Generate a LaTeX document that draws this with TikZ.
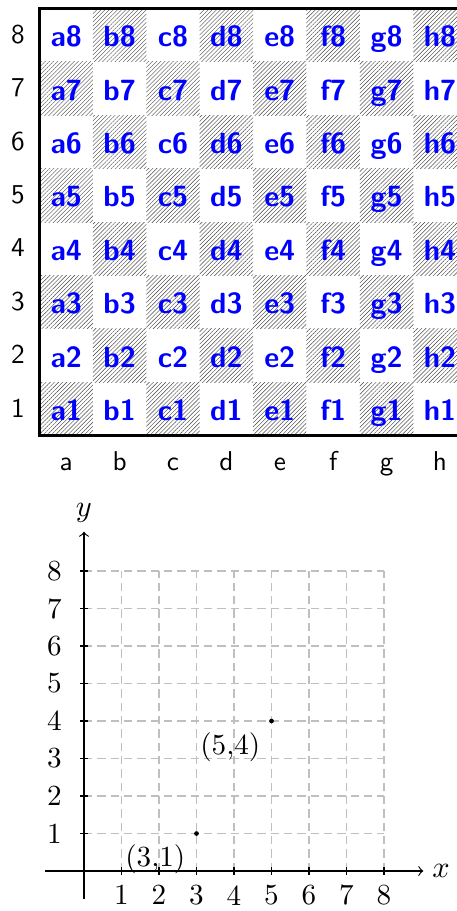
\documentclass[tikz,border=0pt]{standalone}
\usepackage{fontspec}
\usetikzlibrary{patterns.meta}
\begin{document}
\begin{tikzpicture}[x=0.36pt,y=-0.36pt,
  sqlabel/.style={font=\fontsize{10.5}{12}\selectfont\sffamily\bfseries, text=blue, inner sep=0pt, anchor=base},
  coordlabel/.style={font=\fontsize{9.8}{11}\selectfont\sffamily, inner sep=0pt, anchor=base},
  darksq/.style={pattern={Lines[angle=45,distance=1.05pt,line width=0.15pt]}, pattern color=black!75},
  boardframe/.style={line width=0.9pt},
  gridline/.style={gray!50, line width=0.4pt, dash pattern=on 3pt off 1.8pt},
  axisline/.style={line width=0.4pt, ->},
  tickline/.style={line width=0.4pt},
  ticklabel/.style={font=\fontsize{10.5}{12}\selectfont},
  ptlabel/.style={font=\fontsize{10.5}{12}\selectfont, below left=0.5pt}]
\useasboundingbox (0,0) rectangle (456,911);
% chessboard
\foreach \f [count=\i from 0] in {a,b,c,d,e,f,g,h}{
  \foreach \r [count=\j from 0] in {8,7,6,5,4,3,2,1}{
    \pgfmathsetmacro\xa{39.5+53.4*\i}
    \pgfmathsetmacro\ya{8.5+53.4*\j}
    \pgfmathtruncatemacro\oddsq{mod(\i+\j,2)}
    \ifnum\oddsq=1 \fill[darksq] (\xa,\ya) rectangle ++(53.4,53.4); \fi
    \node[sqlabel] (sq\f\r) at (\xa+26.7,\ya+38.2) {\f\r};
  }
  \node[coordlabel] (file\f) at (66.2+53.4*\i,470) {\f};
}
\foreach \r [count=\j from 0] in {8,7,6,5,4,3,2,1}{
  \node[coordlabel] (rank\r) at (18,43.3+53.4*\j) {\r};
}
\draw[boardframe] (39.5,8.5) rectangle (466.7,435.7);
% coordinate system
\begin{scope}[shift={(84,871)}, x=13.5pt, y=13.5pt]
  \foreach \k in {1,...,8}{
    \draw[gridline] (\k,0) -- (\k,8);
    \draw[gridline] (0,\k) -- (8,\k);
  }
  \coordinate (O) at (0,0);
  \coordinate (xs) at (-1.04,0);
  \coordinate (xe) at (9.05,0);
  \coordinate (ys) at (0,-0.75);
  \coordinate (ye) at (0,9.05);
  \draw[axisline] (xs) -- (xe);
  \draw[axisline] (ys) -- (ye);
  \node (xlab) at (9.52,0) {\fontsize{11}{12}\selectfont$x$};
  \node (ylab) at (0,9.55) {\fontsize{11}{12}\selectfont$y$};
  \foreach \k in {1,...,8}{
    \draw[tickline] ([yshift=-1.3pt]\k,0) -- ([yshift=1.3pt]\k,0);
    \draw[tickline] ([xshift=-1.3pt]0,\k) -- ([xshift=1.3pt]0,\k);
    \node[ticklabel, below] (xt\k) at ([yshift=-1.6pt]\k,0) {\k};
    \node[ticklabel, anchor=east] (yt\k) at ([xshift=-4.5pt]0,\k) {\k};
  }
  \coordinate (P31) at (3,1);
  \coordinate (P54) at (5,4);
  \fill (P31) circle (0.85pt);
  \fill (P54) circle (0.85pt);
  \node[ptlabel] (L31) at (P31) {(3,1)};
  \node[ptlabel] (L54) at (P54) {(5,4)};
\end{scope}
\end{tikzpicture}
\end{document}
